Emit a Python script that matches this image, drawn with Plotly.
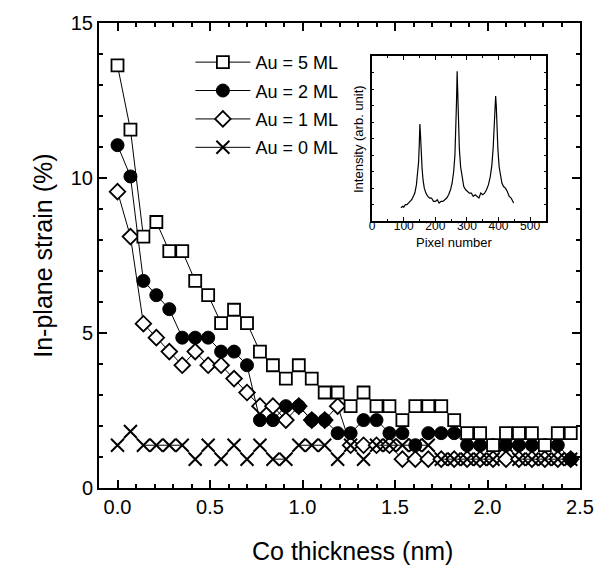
import plotly.graph_objects as go

# ---------------- data ----------------
co_thickness = [0.00, 0.07, 0.14, 0.21, 0.28, 0.35, 0.42, 0.49, 0.56, 0.63,
                0.70, 0.77, 0.84, 0.91, 0.98, 1.05, 1.12, 1.19, 1.26, 1.33,
                1.40, 1.47, 1.54, 1.61, 1.68, 1.75, 1.82, 1.89, 1.96, 2.03,
                2.10, 2.17, 2.24, 2.31, 2.38, 2.45]

au5 = [13.63, 11.56, 8.11, 8.58, 7.64, 7.64, 6.68, 6.22, 5.32, 5.75,
       5.32, 4.40, 3.96, 3.53, 3.96, 3.53, 3.08, 3.08, 2.64, 3.08,
       2.64, 2.64, 2.19, 2.64, 2.64, 2.64, 2.19, 1.77, 1.77, 1.38,
       1.77, 1.77, 1.77, 1.38, 1.77, 1.77]

au2 = [11.06, 10.05, 6.68, 6.22, 5.77, 4.85, 4.85, 4.85, 4.40, 4.40,
       3.96, 2.19, 2.19, 2.64, 2.64, 2.19, 2.19, 1.77, 1.77, 2.19,
       2.19, 1.77, 1.77, 1.38, 1.77, 1.77, 1.77, 1.38, 1.38, 1.38,
       1.38, 1.38, 1.38, 1.38, 1.38, 0.93]

au1 = [9.56, 8.11, 5.30, 4.85, 4.40, 3.96, 4.40, 3.96, 3.96, 3.53,
       3.08, 2.64, 2.64, 2.19, 2.64, 2.19, 2.19, 2.64, 1.38, 1.38,
       1.38, 1.38, 0.93, 0.93, 0.93, 0.93, 0.93, 0.93, 0.93, 0.93,
       0.93, 0.93, 0.93, 0.93, 0.93, 0.93]

au0 = [1.38, 1.82, 1.38, 1.38, 1.38, 1.38, 0.93, 1.38, 0.93, 1.38,
       0.93, 1.38, 0.93, 0.93, 1.38, 1.38, 1.38, 0.93, 1.38, 0.93,
       1.38, 1.38, 1.38, 1.38, 1.38, 0.93, 0.93, 0.93, 0.93, 0.93,
       1.38, 0.93, 0.93, 0.93, 0.93, 0.93]

series_names = ["Au = 5 ML", "Au = 2 ML", "Au = 1 ML", "Au = 0 ML"]

# inset: intensity profile vs pixel number
pixel = [91, 96, 100, 105, 110, 115, 120, 125, 130, 135, 140, 144, 147, 149,
         151, 153, 155, 158, 161, 165, 170, 176, 182, 188, 194, 200, 206, 212,
         218, 224, 230, 236, 242, 248, 253, 258, 262, 265, 267, 269, 271, 273,
         276, 280, 285, 290, 296, 302, 308, 314, 320, 326, 332, 338, 344, 350,
         356, 362, 368, 374, 379, 383, 387, 389, 391, 393, 395, 398, 402, 406,
         411, 416, 422, 428, 434, 440, 445, 448]
intensity = [0.08, 0.09, 0.085, 0.10, 0.10, 0.11, 0.12, 0.13, 0.15, 0.17, 0.22,
             0.28, 0.36, 0.46, 0.59, 0.52, 0.42, 0.32, 0.25, 0.20, 0.17, 0.15,
             0.14, 0.14, 0.12, 0.12, 0.13, 0.11, 0.12, 0.12, 0.13, 0.14, 0.16,
             0.19, 0.23, 0.30, 0.40, 0.55, 0.72, 0.91, 0.78, 0.60, 0.44, 0.33,
             0.26, 0.21, 0.19, 0.18, 0.17, 0.17, 0.15, 0.16, 0.15, 0.14, 0.17,
             0.16, 0.17, 0.19, 0.22, 0.27, 0.34, 0.44, 0.60, 0.70, 0.76, 0.70,
             0.58, 0.44, 0.33, 0.27, 0.23, 0.21, 0.20, 0.18, 0.15, 0.14, 0.12,
             0.11]

x_ticks = [0.0, 0.5, 1.0, 1.5, 2.0, 2.5]
y_ticks = [0, 5, 10, 15]
inset_x_ticks = [0, 100, 200, 300, 400, 500]

FONT = "Liberation Sans, Arial, sans-serif"

fig = go.Figure()

# draw order: diamonds, crosses, circles, squares (legend order via legendrank)
fig.add_trace(go.Scatter(
    x=co_thickness, y=au1, name=series_names[2], mode="lines+markers",
    line=dict(color="black", width=1),
    marker=dict(symbol="diamond", size=12, color="white",
                line=dict(color="black", width=1.8)),
    legendrank=3, legendgroup="g3"))
fig.add_trace(go.Scatter(
    x=co_thickness, y=au0, name=series_names[3], mode="lines+markers",
    line=dict(color="black", width=1),
    marker=dict(symbol="x-thin", size=13, color="black",
                line=dict(color="black", width=2)),
    legendrank=4, legendgroup="g4"))
fig.add_trace(go.Scatter(
    x=co_thickness, y=au2, name=series_names[1], mode="lines+markers",
    line=dict(color="black", width=1),
    marker=dict(symbol="circle", size=13, color="black",
                line=dict(color="black", width=1)),
    legendrank=2, legendgroup="g2"))
fig.add_trace(go.Scatter(
    x=co_thickness, y=au5, name=series_names[0], mode="lines+markers",
    line=dict(color="black", width=1),
    marker=dict(symbol="square", size=12, color="white",
                line=dict(color="black", width=1.8)),
    legendrank=1, legendgroup="g1"))

# inset
fig.add_trace(go.Scatter(
    x=pixel, y=intensity, xaxis="x2", yaxis="y2", mode="lines",
    line=dict(color="black", width=1.2), showlegend=False))

axis_common = dict(showline=True, linecolor="black", mirror="ticks",
                   showgrid=False, zeroline=False, ticks="inside",
                   tickcolor="black")

fig.update_layout(
    width=609, height=578,
    margin=dict(l=99, r=29, t=13, b=90),
    paper_bgcolor="white", plot_bgcolor="white",
    font=dict(family=FONT, color="black"),
    xaxis=dict(**axis_common, range=[-0.1, 2.5], tickvals=x_ticks,
               tickformat=".1f", ticklen=8, tickwidth=2, linewidth=2,
               minor=dict(dtick=0.1, tick0=0, ticklen=4, tickwidth=1.5,
                          ticks="inside", tickcolor="black"),
               tickfont=dict(size=20, family=FONT)),
    yaxis=dict(**axis_common, range=[0, 15], tickvals=y_ticks,
               ticklen=8, tickwidth=2, linewidth=2,
               minor=dict(dtick=1, tick0=0, ticklen=4, tickwidth=1.5,
                          ticks="inside", tickcolor="black"),
               tickfont=dict(size=20, family=FONT)),
    xaxis2=dict(**axis_common, domain=[0.568, 0.929], anchor="y2",
                range=[0, 550], tickvals=inset_x_ticks, ticklen=4,
                tickwidth=1, linewidth=1.5,
                minor=dict(dtick=50, tick0=0, ticklen=2, tickwidth=1,
                           ticks="inside", tickcolor="black"),
                tickfont=dict(size=12, family=FONT)),
    yaxis2=dict(**axis_common, domain=[0.574, 0.928], anchor="x2",
                range=[0, 1], showticklabels=False, dtick=0.1, ticklen=2,
                tickwidth=1, linewidth=1.5),
    legend=dict(x=0.19, y=0.955, xanchor="left", yanchor="top",
                bgcolor="rgba(0,0,0,0)", font=dict(size=18, family=FONT),
                itemwidth=55, tracegroupgap=2),
    showlegend=True,
    annotations=[
        dict(text="Co thickness (nm)", xref="paper", yref="paper",
             x=0.528, y=-0.135, xanchor="center", yanchor="middle",
             showarrow=False, font=dict(size=25, family=FONT)),
        dict(text="In-plane strain (%)", xref="paper", yref="paper",
             x=-0.118, y=0.50, xanchor="center", yanchor="middle",
             textangle=-90, showarrow=False, font=dict(size=25, family=FONT)),
        dict(text="Pixel number", xref="paper", yref="paper",
             x=0.74, y=0.527, xanchor="center", yanchor="middle",
             showarrow=False, font=dict(size=13, family=FONT)),
        dict(text="Intensity (arb. unit)", xref="paper", yref="paper",
             x=0.54, y=0.75, xanchor="center", yanchor="middle",
             textangle=-90, showarrow=False, font=dict(size=13, family=FONT)),
    ],
)

# pull the inset tick labels closer to its frame
try:
    fig.update_layout(xaxis2=dict(ticklabelstandoff=-7))
except Exception:
    pass

fig.write_html("out.html")
